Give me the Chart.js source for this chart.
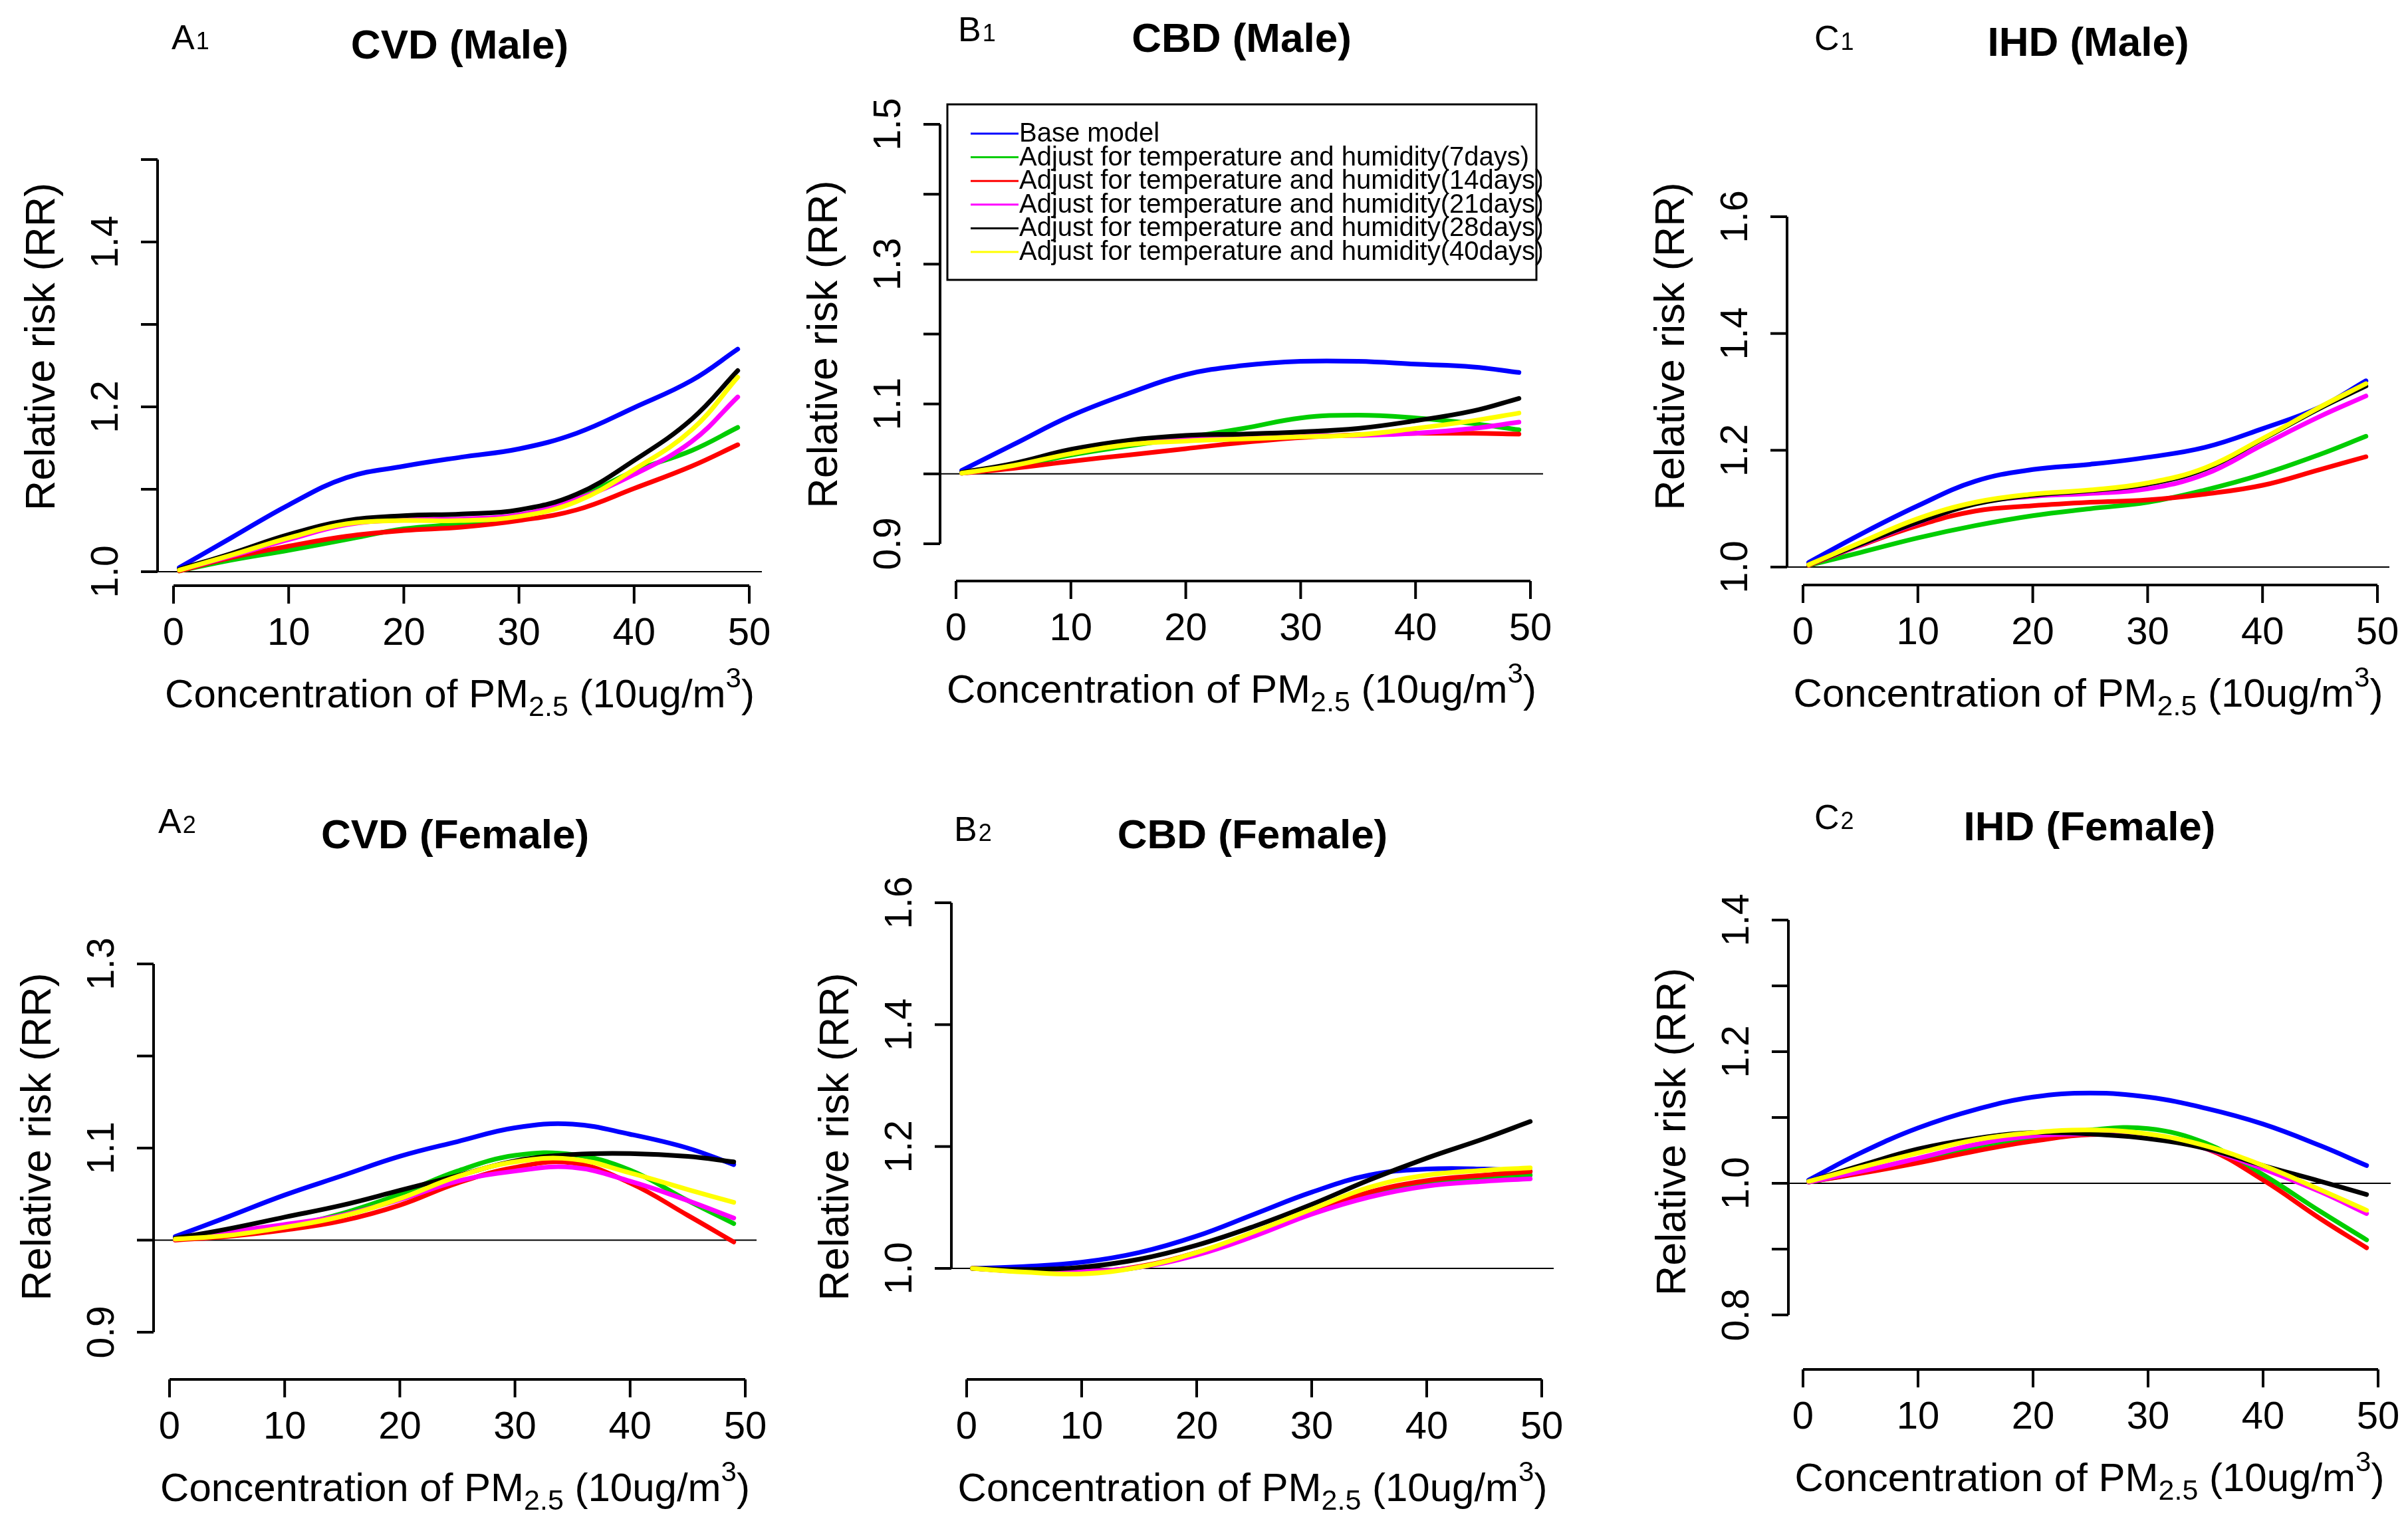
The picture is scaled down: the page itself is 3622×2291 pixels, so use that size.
<!DOCTYPE html>
<html>
<head>
<meta charset="utf-8">
<script src="https://cdn.jsdelivr.net/npm/chart.js@4.4.0/dist/chart.umd.min.js"></script>
<style>
  html, body { margin: 0; padding: 0; background: #fff; }
  #wrap { position: relative; width: 3622px; height: 2291px; overflow: hidden; background: #fff; }
  #wrap canvas { position: absolute; }
</style>
</head>
<body>
<div id="wrap"></div>
<script>
  /* concentration of PM2.5 (10ug/m3) at which the curves were read */
  var X = [0.5, 5, 10, 15, 20, 25, 30, 35, 40, 45, 49];
  var X_TICKS = [0, 10, 20, 30, 40, 50];

  var SERIES_LABELS = [
    'Base model',
    'Adjust for temperature and humidity(7days)',
    'Adjust for temperature and humidity(14days)',
    'Adjust for temperature and humidity(21days)',
    'Adjust for temperature and humidity(28days)',
    'Adjust for temperature and humidity(40days)'
  ];
  var SERIES_COLORS = ['#0000ff', '#00cd00', '#ff0000', '#ff00ff', '#000000', '#ffff00'];

  /* RR curves: base, 7d, 14d, 21d, 28d, 40d */
  var cvdMale = [
    [1.005, 1.041, 1.081, 1.114, 1.128, 1.139, 1.149, 1.168, 1.199, 1.232, 1.270],
    [1.001, 1.014, 1.026, 1.039, 1.052, 1.058, 1.067, 1.089, 1.122, 1.147, 1.175],
    [1.001, 1.017, 1.031, 1.043, 1.050, 1.054, 1.062, 1.075, 1.101, 1.128, 1.154],
    [1.002, 1.019, 1.039, 1.057, 1.063, 1.064, 1.069, 1.088, 1.118, 1.158, 1.212],
    [1.003, 1.022, 1.045, 1.062, 1.068, 1.070, 1.075, 1.094, 1.135, 1.185, 1.244],
    [1.002, 1.020, 1.041, 1.058, 1.062, 1.062, 1.067, 1.085, 1.124, 1.172, 1.236]
  ];
  var cbdMale = [
    [1.005, 1.042, 1.083, 1.115, 1.142, 1.155, 1.161, 1.161, 1.157, 1.153, 1.145],
    [1.001, 1.010, 1.027, 1.040, 1.052, 1.065, 1.080, 1.084, 1.080, 1.072, 1.063],
    [1.001, 1.008, 1.018, 1.027, 1.036, 1.045, 1.052, 1.056, 1.058, 1.058, 1.057],
    [1.001, 1.013, 1.033, 1.046, 1.050, 1.052, 1.054, 1.055, 1.058, 1.065, 1.074],
    [1.002, 1.015, 1.035, 1.048, 1.055, 1.057, 1.060, 1.065, 1.076, 1.090, 1.108],
    [1.001, 1.012, 1.029, 1.042, 1.047, 1.050, 1.053, 1.056, 1.065, 1.076, 1.087]
  ];
  var ihdMale = [
    [1.008, 1.056, 1.105, 1.147, 1.167, 1.176, 1.188, 1.205, 1.237, 1.274, 1.319],
    [1.003, 1.025, 1.050, 1.071, 1.088, 1.100, 1.111, 1.132, 1.159, 1.193, 1.224],
    [1.003, 1.037, 1.071, 1.096, 1.105, 1.111, 1.115, 1.125, 1.140, 1.167, 1.189],
    [1.004, 1.038, 1.076, 1.109, 1.121, 1.126, 1.134, 1.159, 1.209, 1.258, 1.293],
    [1.004, 1.039, 1.077, 1.108, 1.123, 1.131, 1.142, 1.168, 1.219, 1.272, 1.310],
    [1.004, 1.042, 1.083, 1.111, 1.125, 1.132, 1.144, 1.170, 1.220, 1.274, 1.314]
  ];
  var cvdFemale = [
    [1.004, 1.025, 1.049, 1.070, 1.091, 1.107, 1.122, 1.126, 1.115, 1.100, 1.082],
    [1.001, 1.006, 1.014, 1.029, 1.050, 1.075, 1.092, 1.093, 1.076, 1.043, 1.018],
    [1.000, 1.004, 1.011, 1.021, 1.038, 1.062, 1.079, 1.084, 1.062, 1.027, 0.998],
    [1.001, 1.009, 1.017, 1.027, 1.044, 1.064, 1.075, 1.079, 1.064, 1.043, 1.024],
    [1.002, 1.012, 1.025, 1.038, 1.054, 1.070, 1.086, 1.093, 1.094, 1.091, 1.085],
    [1.001, 1.005, 1.014, 1.026, 1.045, 1.069, 1.085, 1.088, 1.073, 1.055, 1.041]
  ];
  var cbdFemale = [
    [1.000, 1.003, 1.010, 1.026, 1.053, 1.089, 1.125, 1.153, 1.163, 1.163, 1.159],
    [1.000, 0.995, 0.993, 1.002, 1.024, 1.055, 1.090, 1.121, 1.140, 1.148, 1.153],
    [1.000, 0.995, 0.994, 1.003, 1.026, 1.057, 1.093, 1.125, 1.144, 1.153, 1.159],
    [1.000, 0.995, 0.995, 1.002, 1.022, 1.053, 1.089, 1.117, 1.135, 1.143, 1.147],
    [1.000, 0.998, 1.002, 1.015, 1.038, 1.069, 1.105, 1.145, 1.181, 1.213, 1.241],
    [1.000, 0.994, 0.991, 1.002, 1.026, 1.060, 1.097, 1.133, 1.153, 1.161, 1.165]
  ];
  var ihdFemale = [
    [1.005, 1.046, 1.084, 1.112, 1.131, 1.137, 1.131, 1.114, 1.090, 1.057, 1.027],
    [1.002, 1.016, 1.035, 1.053, 1.068, 1.081, 1.083, 1.061, 1.013, 0.957, 0.914],
    [1.002, 1.015, 1.031, 1.049, 1.064, 1.074, 1.069, 1.053, 1.005, 0.946, 0.902],
    [1.002, 1.018, 1.038, 1.059, 1.072, 1.075, 1.072, 1.053, 1.022, 0.987, 0.954],
    [1.003, 1.027, 1.052, 1.068, 1.077, 1.075, 1.068, 1.053, 1.027, 1.003, 0.983],
    [1.003, 1.024, 1.046, 1.066, 1.077, 1.081, 1.075, 1.057, 1.027, 0.990, 0.959]
  ];

  /* y axis ticks and their printed labels (R drops labels that would overlap) */
  var cvdMaleTicks = [1.0, 1.1, 1.2, 1.3, 1.4, 1.5];
  var cvdMaleTickLabels = ['1.0', '', '1.2', '', '1.4', ''];
  var cbdMaleTicks = [0.9, 1.0, 1.1, 1.2, 1.3, 1.4, 1.5];
  var cbdMaleTickLabels = ['0.9', '', '1.1', '', '1.3', '', '1.5'];
  var ihdMaleTicks = [1.0, 1.2, 1.4, 1.6];
  var ihdMaleTickLabels = ['1.0', '1.2', '1.4', '1.6'];
  var cvdFemaleTicks = [0.9, 1.0, 1.1, 1.2, 1.3];
  var cvdFemaleTickLabels = ['0.9', '', '1.1', '', '1.3'];
  var cbdFemaleTicks = [1.0, 1.2, 1.4, 1.6];
  var cbdFemaleTickLabels = ['1.0', '1.2', '1.4', '1.6'];
  var ihdFemaleTicks = [0.8, 0.9, 1.0, 1.1, 1.2, 1.3, 1.4];
  var ihdFemaleTickLabels = ['0.8', '', '1.0', '', '1.2', '', '1.4'];

  var FONT = '"Liberation Sans", Arial, Helvetica, sans-serif';
  var Y_TITLE = 'Relative risk (RR)';

  /* page layout of each panel (pixels): plot region, where two y ticks sit, where x=0 and x=50 sit */
  var PANELS = [
    { title: 'CVD (Male)', tag: 'A', tagSub: '1', series: cvdMale, ticks: cvdMaleTicks, tickLabels: cvdMaleTickLabels,
      canvas: [0, 0, 1207, 1145], left: 237, right: 1146, top: 162, bottom: 881, x0: 261, x50: 1127,
      yLo: [1.0, 860], yHi: [1.5, 240], titleY: 88, tagX: 258, tagY: 74 },
    { title: 'CBD (Male)', tag: 'B', tagSub: '1', series: cbdMale, ticks: cbdMaleTicks, tickLabels: cbdMaleTickLabels,
      canvas: [1207, 0, 1207, 1145], left: 1414, right: 2321, top: 162, bottom: 874, x0: 1438, x50: 2302,
      yLo: [0.9, 818], yHi: [1.5, 187], titleY: 78, tagX: 1441, tagY: 62,
      legend: [1425, 157, 2311, 421] },
    { title: 'IHD (Male)', tag: 'C', tagSub: '1', series: ihdMale, ticks: ihdMaleTicks, tickLabels: ihdMaleTickLabels,
      canvas: [2414, 0, 1208, 1145], left: 2688, right: 3594, top: 162, bottom: 880, x0: 2712, x50: 3576,
      yLo: [1.0, 853], yHi: [1.6, 326], titleY: 84, tagX: 2729, tagY: 75 },
    { title: 'CVD (Female)', tag: 'A', tagSub: '2', series: cvdFemale, ticks: cvdFemaleTicks, tickLabels: cvdFemaleTickLabels,
      canvas: [0, 1145, 1207, 1146], left: 231, right: 1138, top: 1345, bottom: 2075, x0: 255, x50: 1121,
      yLo: [0.9, 2004], yHi: [1.3, 1450], titleY: 1276, tagX: 238, tagY: 1253 },
    { title: 'CBD (Female)', tag: 'B', tagSub: '2', series: cbdFemale, ticks: cbdFemaleTicks, tickLabels: cbdFemaleTickLabels,
      canvas: [1207, 1145, 1207, 1146], left: 1431, right: 2337, top: 1345, bottom: 2075, x0: 1454, x50: 2319,
      yLo: [1.0, 1908], yHi: [1.6, 1358], titleY: 1276, tagX: 1435, tagY: 1265 },
    { title: 'IHD (Female)', tag: 'C', tagSub: '2', series: ihdFemale, ticks: ihdFemaleTicks, tickLabels: ihdFemaleTickLabels,
      canvas: [2414, 1145, 1208, 1146], left: 2690, right: 3596, top: 1345, bottom: 2060, x0: 2712, x50: 3577,
      yLo: [0.8, 1978], yHi: [1.4, 1384], titleY: 1264, tagX: 2729, tagY: 1247 }
  ];

  function seg(ctx, x1, y1, x2, y2) {
    ctx.beginPath(); ctx.moveTo(x1, y1); ctx.lineTo(x2, y2); ctx.stroke();
  }

  /* draws runs of text with different sizes / baseline shifts, centred on cx */
  function richText(ctx, parts, cx, baseY, size) {
    var w = 0;
    parts.forEach(function (p) {
      ctx.font = Math.round(size * p.s) + 'px ' + FONT;
      p.w = ctx.measureText(p.t).width;
      w += p.w;
    });
    var x = cx - w / 2;
    ctx.textAlign = 'left';
    ctx.textBaseline = 'alphabetic';
    parts.forEach(function (p) {
      ctx.font = Math.round(size * p.s) + 'px ' + FONT;
      ctx.fillText(p.t, x, baseY + p.dy * size);
      x += p.w;
    });
  }

  var rAxes = {
    id: 'rAxes',
    beforeDatasetsDraw: function (chart) {
      var p = chart.options.plugins.rAxes.panel;
      var ctx = chart.ctx, a = chart.chartArea;
      var xs = chart.scales.x, ys = chart.scales.y;
      var n = p.ticks.length;
      ctx.save();
      ctx.strokeStyle = '#000';
      ctx.fillStyle = '#000';
      ctx.lineCap = 'butt';

      /* RR = 1 reference line */
      ctx.lineWidth = 2;
      var y1 = ys.getPixelForValue(1);
      seg(ctx, a.left, y1, a.right, y1);

      /* y axis */
      ctx.lineWidth = 4;
      seg(ctx, a.left, ys.getPixelForValue(p.ticks[0]), a.left, ys.getPixelForValue(p.ticks[n - 1]));
      ctx.font = '57px ' + FONT;
      ctx.textAlign = 'center';
      ctx.textBaseline = 'middle';
      p.ticks.forEach(function (t, i) {
        var py = ys.getPixelForValue(t);
        seg(ctx, a.left - 25, py, a.left, py);
        if (p.tickLabels[i]) {
          ctx.save();
          ctx.translate(a.left - 76, py);
          ctx.rotate(-Math.PI / 2);
          ctx.fillText(p.tickLabels[i], 0, 0);
          ctx.restore();
        }
      });

      /* x axis */
      seg(ctx, xs.getPixelForValue(X_TICKS[0]), a.bottom, xs.getPixelForValue(X_TICKS[X_TICKS.length - 1]), a.bottom);
      ctx.font = '58px ' + FONT;
      X_TICKS.forEach(function (t) {
        var px = xs.getPixelForValue(t);
        seg(ctx, px, a.bottom, px, a.bottom + 27);
        ctx.fillText(String(t), px, a.bottom + 73);
      });

      /* axis titles */
      ctx.save();
      ctx.translate(a.left - 172, (a.top + a.bottom) / 2);
      ctx.rotate(-Math.PI / 2);
      ctx.font = '63px ' + FONT;
      ctx.fillText(Y_TITLE, 0, 0);
      ctx.restore();

      richText(ctx, [
        { t: 'Concentration of PM', s: 1, dy: 0 },
        { t: '2.5', s: 0.72, dy: 0.22 },
        { t: ' (10ug/m', s: 1, dy: 0 },
        { t: '3', s: 0.7, dy: -0.5 },
        { t: ')', s: 1, dy: 0 }
      ], (a.left + a.right) / 2, a.bottom + 183, 60);

      /* main title and panel tag */
      var ox = p.canvas[0], oy = p.canvas[1];
      ctx.font = 'bold 62px ' + FONT;
      ctx.textAlign = 'center';
      ctx.textBaseline = 'alphabetic';
      ctx.fillText(p.title, (a.left + a.right) / 2, p.titleY - oy);

      ctx.textAlign = 'left';
      ctx.font = '52px ' + FONT;
      ctx.fillText(p.tag, p.tagX - ox, p.tagY - oy);
      var tw = ctx.measureText(p.tag).width;
      ctx.font = '36px ' + FONT;
      ctx.fillText(p.tagSub, p.tagX - ox + tw + 2, p.tagY - oy);

      /* legend box */
      if (p.legend) {
        var L = p.legend[0] - ox, T = p.legend[1] - oy, R = p.legend[2] - ox, B = p.legend[3] - oy;
        ctx.fillStyle = '#fff';
        ctx.fillRect(L, T, R - L, B - T);
        ctx.lineWidth = 3;
        ctx.strokeStyle = '#000';
        ctx.strokeRect(L, T, R - L, B - T);
        ctx.save();
        ctx.beginPath();
        ctx.rect(L, T, R - L + 8, B - T);
        ctx.clip();
        ctx.font = '40px ' + FONT;
        ctx.textBaseline = 'middle';
        ctx.textAlign = 'left';
        chart.data.datasets.forEach(function (ds, i) {
          var ry = T + 44 + i * 35.6;
          ctx.strokeStyle = ds.borderColor;
          ctx.lineWidth = 3;
          seg(ctx, L + 35, ry, L + 107, ry);
          ctx.fillStyle = '#000';
          ctx.fillText(ds.label, L + 108, ry + 1);
        });
        ctx.restore();
      }
      ctx.restore();
    }
  };

  var wrap = document.getElementById('wrap');

  PANELS.forEach(function (p) {
    var c = p.canvas;
    var cv = document.createElement('canvas');
    cv.width = c[2]; cv.height = c[3];
    cv.style.left = c[0] + 'px'; cv.style.top = c[1] + 'px';
    cv.style.width = c[2] + 'px'; cv.style.height = c[3] + 'px';
    wrap.appendChild(cv);

    var ppx = (p.x50 - p.x0) / 50;
    var ppy = (p.yLo[1] - p.yHi[1]) / (p.yHi[0] - p.yLo[0]);

    var datasets = p.series.map(function (vals, i) {
      return {
        label: SERIES_LABELS[i],
        data: X.map(function (x, j) { return { x: x, y: vals[j] }; }),
        borderColor: SERIES_COLORS[i],
        backgroundColor: SERIES_COLORS[i],
        borderWidth: 7,
        borderCapStyle: 'round',
        borderJoinStyle: 'round',
        pointRadius: 0,
        pointHoverRadius: 0,
        fill: false,
        tension: 0.4,
        cubicInterpolationMode: 'default',
        clip: false,
        order: SERIES_LABELS.length - i
      };
    });

    new Chart(cv, {
      type: 'line',
      data: { datasets: datasets },
      plugins: [rAxes],
      options: {
        responsive: false,
        animation: false,
        devicePixelRatio: 1,
        events: [],
        layout: {
          padding: {
            left: p.left - c[0],
            right: c[0] + c[2] - p.right,
            top: p.top - c[1],
            bottom: c[1] + c[3] - p.bottom
          }
        },
        scales: {
          x: {
            type: 'linear', display: false,
            min: -(p.x0 - p.left) / ppx,
            max: 50 + (p.right - p.x50) / ppx
          },
          y: {
            type: 'linear', display: false,
            min: p.yLo[0] - (p.bottom - p.yLo[1]) / ppy,
            max: p.yHi[0] + (p.yHi[1] - p.top) / ppy
          }
        },
        plugins: {
          legend: { display: false },
          tooltip: { enabled: false },
          title: { display: false },
          rAxes: { panel: p }
        }
      }
    });
  });
</script>
</body>
</html>
